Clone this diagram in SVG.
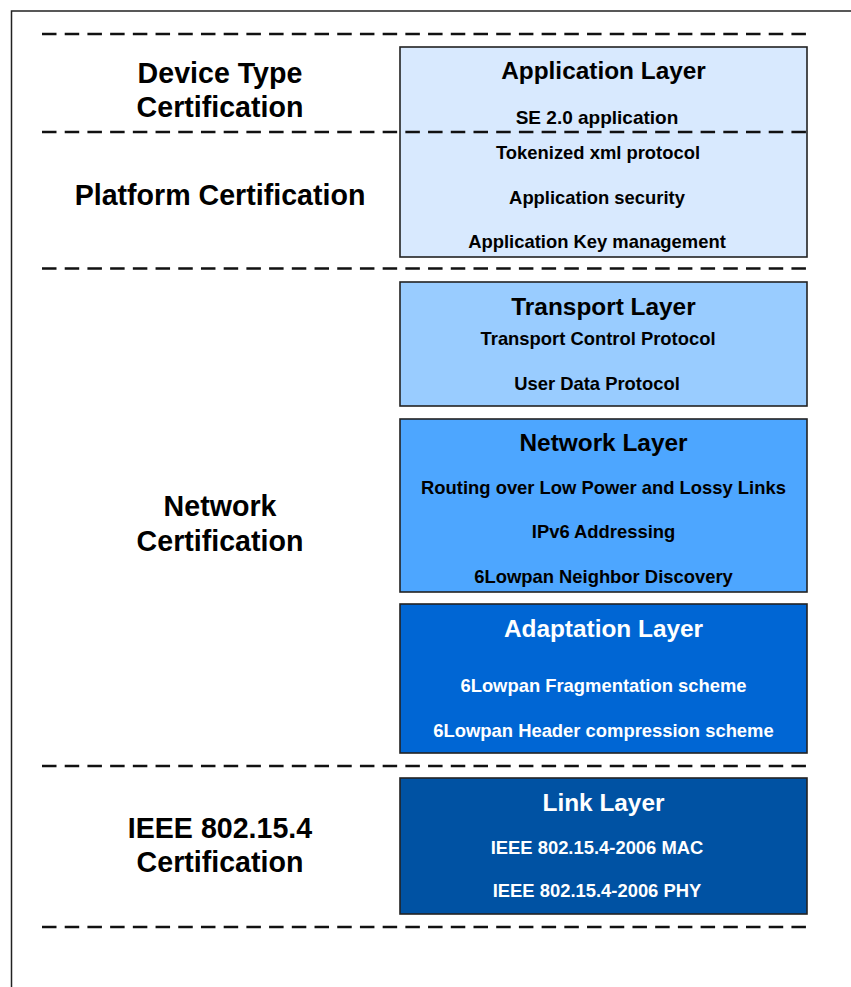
<svg xmlns="http://www.w3.org/2000/svg" width="851" height="987" viewBox="0 0 851 987">
<style>
.frame{fill:none;stroke:#222;stroke-width:1.5}
.dash{stroke:#111;stroke-width:2.4;stroke-dasharray:14.5 8.21;fill:none}
.box{stroke:#222;stroke-width:1.6}
.cert{font-family:"Liberation Sans",Arial,sans-serif;font-weight:bold;font-size:28.6px;fill:#000;text-anchor:middle}
.title{font-family:"Liberation Sans",Arial,sans-serif;font-weight:bold;font-size:24.4px;text-anchor:middle}
.sub{font-family:"Liberation Sans",Arial,sans-serif;font-weight:bold;font-size:18.4px;text-anchor:middle}
.dk{fill:#000}
.wh{fill:#fff}
</style>
<rect width="851" height="987" fill="#fff"/>
<path class="frame" d="M851,11 H11.5 V987"/>
<g id="connectors">
<line class="dash" x1="42" y1="34" x2="806" y2="34"/>
<line class="dash" x1="42" y1="268.5" x2="806" y2="268.5"/>
<line class="dash" x1="42" y1="766" x2="806" y2="766"/>
<line class="dash" x1="42" y1="927" x2="806" y2="927"/>
</g>
<g id="app-layer">
<rect class="box" x="400" y="47" width="407" height="210" fill="#D8E9FE"/>
<text class="title dk" x="603.5" y="79">Application Layer</text>
<text class="sub dk" x="597" y="124" style="font-size:19px">SE 2.0 application</text>
<text class="sub dk" x="598" y="159">Tokenized xml protocol</text>
<text class="sub dk" x="597" y="204">Application security</text>
<text class="sub dk" x="597" y="248">Application Key management</text>
</g>
<g id="divider">
<line class="dash" x1="42" y1="132" x2="806" y2="132"/>
</g>
<g id="cert-device">
<text class="cert" x="220" y="83">Device Type</text>
<text class="cert" x="220" y="117">Certification</text>
</g>
<g id="cert-platform">
<text class="cert" x="220" y="205">Platform Certification</text>
</g>
<g id="cert-network">
<text class="cert" x="220" y="516">Network</text>
<text class="cert" x="220" y="551">Certification</text>
</g>
<g id="cert-ieee">
<text class="cert" x="220" y="838">IEEE 802.15.4</text>
<text class="cert" x="220" y="872">Certification</text>
</g>
<g id="transport-layer">
<rect class="box" x="400" y="282" width="407" height="124" fill="#99CCFF"/>
<text class="title dk" x="603.5" y="315">Transport Layer</text>
<text class="sub dk" x="598" y="345">Transport Control Protocol</text>
<text class="sub dk" x="597" y="390">User Data Protocol</text>
</g>
<g id="network-layer">
<rect class="box" x="400" y="419" width="407" height="173" fill="#4DA6FF"/>
<text class="title dk" x="603.5" y="451">Network Layer</text>
<text class="sub dk" x="603.5" y="494">Routing over Low Power and Lossy Links</text>
<text class="sub dk" x="603.5" y="538">IPv6 Addressing</text>
<text class="sub dk" x="603.5" y="583">6Lowpan Neighbor Discovery</text>
</g>
<g id="adaptation-layer">
<rect class="box" x="400" y="604" width="407" height="149" fill="#0066D4"/>
<text class="title wh" x="603.5" y="637">Adaptation Layer</text>
<text class="sub wh" x="603.5" y="692">6Lowpan Fragmentation scheme</text>
<text class="sub wh" x="603.5" y="737">6Lowpan Header compression scheme</text>
</g>
<g id="link-layer">
<rect class="box" x="400" y="778" width="407" height="136" fill="#0052A3"/>
<text class="title wh" x="603.5" y="811">Link Layer</text>
<text class="sub wh" x="597" y="854">IEEE 802.15.4-2006 MAC</text>
<text class="sub wh" x="597" y="897">IEEE 802.15.4-2006 PHY</text>
</g>
</svg>
